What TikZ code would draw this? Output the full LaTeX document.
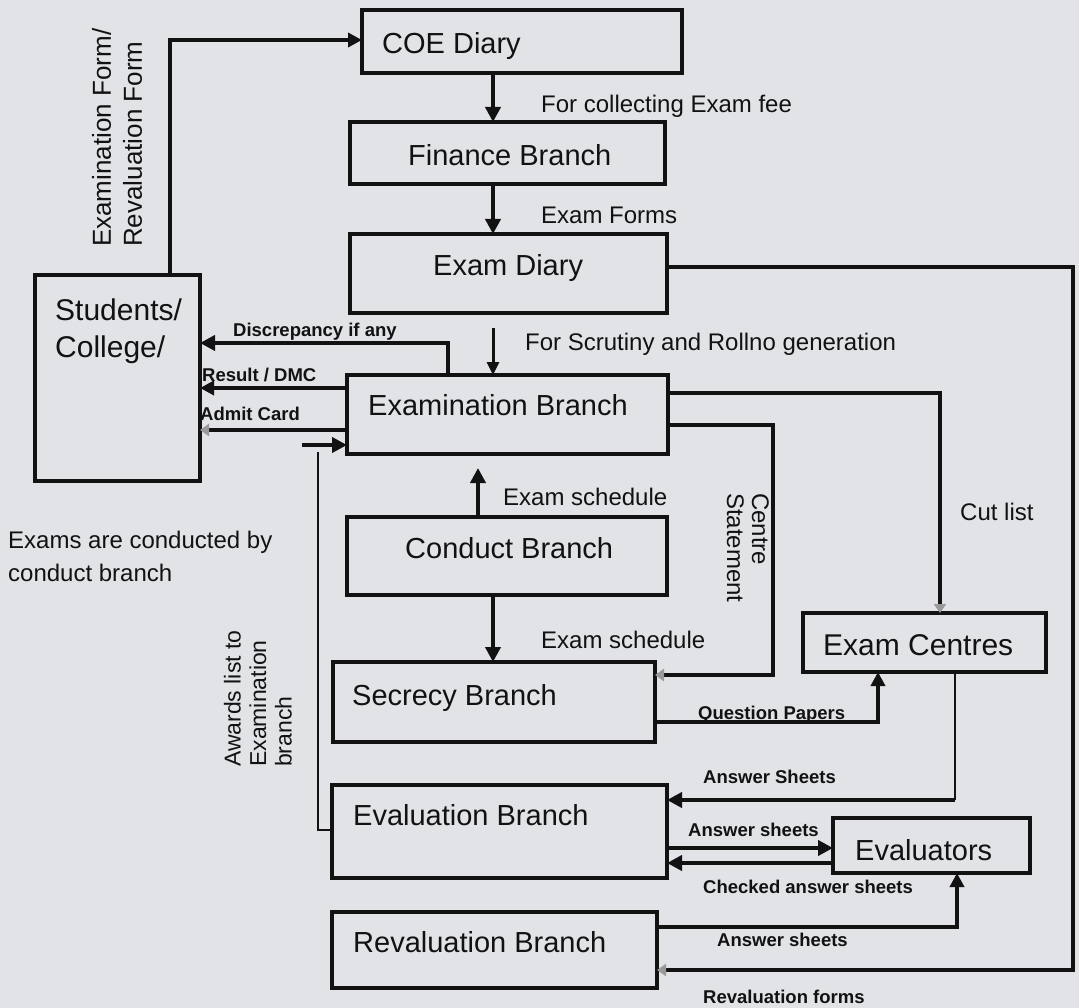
\documentclass[tikz,border=0pt]{standalone}
\usepackage{fontspec}
\setmainfont{Liberation Sans}
\usetikzlibrary{arrows.meta}
\definecolor{bgc}{RGB}{225,227,230}
\definecolor{ink}{RGB}{18,18,18}
\tikzset{
  box/.style={draw=ink, line width=3.2pt, inner sep=0pt, outer sep=0pt, rectangle},
  btxt/.style={inner sep=0pt, anchor=west, text=ink, font=\fontsize{29}{34}\selectfont, text height=20.8pt, text depth=0pt},
  ltxt/.style={inner sep=0pt, anchor=west, text=ink, font=\fontsize{24}{28}\selectfont, text height=17.2pt, text depth=0pt},
  stxt/.style={inner sep=0pt, anchor=west, text=ink, font=\bfseries\fontsize{18.5}{22}\selectfont, text height=13.3pt, text depth=0pt},
  rtxt/.style={inner sep=0pt, anchor=west, text=ink, align=left},
  arrm/.style={draw=ink, line width=4.4pt, -{Triangle[length=15pt,width=15pt]}},
  arrs/.style={draw=ink, line width=3.6pt, -{Triangle[length=14pt,width=14pt]}},
  arrt/.style={draw=ink, line width=3pt, -{Triangle[length=13pt,width=12pt]}},
  arrf/.style={draw=ink, line width=3.8pt, -{Triangle[length=9pt,width=12pt,color=black!40]}},
  plain/.style={draw=ink, line width=2.6pt},
}
\begin{document}
\begin{tikzpicture}[x=1pt,y=-1pt]
\fill[bgc] (0,0) rectangle (1079,1008);
\useasboundingbox (0,0) rectangle (1079,1008);

% boxes
\node[box, minimum width=320pt, minimum height=63pt] (coe) at (522,41.5) {};
\node[box, minimum width=315pt, minimum height=62pt] (fin) at (507.5,153) {};
\node[box, minimum width=317pt, minimum height=79pt] (ediary) at (508.5,273.5) {};
\node[box, minimum width=165pt, minimum height=206pt] (stu) at (117.5,378) {};
\node[box, minimum width=321pt, minimum height=79pt] (exm) at (507.5,414.5) {};
\node[box, minimum width=320pt, minimum height=78pt] (con) at (507,556) {};
\node[box, minimum width=322pt, minimum height=80pt] (sec) at (494,702) {};
\node[box, minimum width=243pt, minimum height=59pt] (cen) at (924.5,642.5) {};
\node[box, minimum width=335pt, minimum height=93pt] (eva) at (499.5,831.5) {};
\node[box, minimum width=197pt, minimum height=55pt] (evs) at (931.5,845.5) {};
\node[box, minimum width=325pt, minimum height=76pt] (rev) at (494.5,950) {};

% box texts
\node[btxt] (coe-t) at (382,43) {COE Diary};
\node[btxt] (fin-t) at (408,155) {Finance Branch};
\node[btxt] (ediary-t) at (433,265) {Exam Diary};
\node[inner sep=0pt, anchor=north west, align=left, text=ink, font=\fontsize{30}{37}\selectfont] (stu-t) at (55,299) {Students/\\College/};
\node[btxt] (exm-t) at (368,405) {Examination Branch};
\node[btxt] (con-t) at (405,548) {Conduct Branch};
\node[btxt] (sec-t) at (352,695) {Secrecy Branch};
\node[btxt, font=\fontsize{30}{35}\selectfont, text height=21.5pt] (cen-t) at (823,645) {Exam Centres};
\node[btxt] (eva-t) at (353,815) {Evaluation Branch};
\node[btxt] (evs-t) at (855,850) {Evaluators};
\node[btxt] (rev-t) at (353,942) {Revaluation Branch};

% free text
\node[inner sep=0pt, anchor=north west, align=left, text=ink, font=\fontsize{24}{33}\selectfont] (note) at (8,531) {Exams are conducted by\\conduct branch};

% connectors
\draw[arrs] (stu.north -| 170,0) |- (coe.west |- 0,40);
\draw[arrm] (coe.south -| 493,0) -- (fin.north -| 493,0);
\draw[arrm] (fin.south -| 493,0) -- (ediary.north -| 493,0);
\coordinate (scr) at (493,328);
\draw[arrt] (scr) -- (exm.north -| 493,0);
\draw[arrm] (exm.north -| 448,0) |- (stu.east |- 0,343);
\draw[arrs] (exm.west |- 0,388) -- (stu.east |- 0,388);
\draw[arrf] (exm.west |- 0,430) -- (stu.east |- 0,430);
\draw[plain] (eva.west |- 0,830) -| (318,452);
\coordinate (aws) at (302,445);
\draw[arrm] (aws) -- (exm.west |- 0,445);
\draw[arrm, shorten >=14pt] (con.north -| 478,0) -- (exm.south -| 478,0);
\draw[arrm] (con.south -| 493,0) -- (sec.north -| 493,0);
\draw[arrf] (exm.east |- 0,425) -| (773,675) -- (sec.east |- 0,675);
\draw[arrf] (exm.east |- 0,393) -| (cen.north -| 940,0);
\draw[arrf, line width=3.2pt] (ediary.east |- 0,267) -| (1073,970) -- (rev.east |- 0,970);
\draw[arrs] (sec.east |- 0,722) -| (cen.south -| 878,0);
\coordinate (ansc) at (955,800);
\draw[plain] (cen.south -| 955,0) -- (ansc);
\draw[arrm] (ansc) -- (eva.east |- 0,800);
\draw[arrm] (eva.east |- 0,848) -- (evs.west |- 0,848);
\draw[arrm] (evs.west |- 0,863) -- (eva.east |- 0,863);
\draw[arrs] (rev.east |- 0,927) -| (evs.south -| 957,0);

% connector labels
\node[rtxt, rotate=90, font=\fontsize{26}{31}\selectfont] (l-form) at (117,247) {Examination Form/\\Revaluation Form};
\node[ltxt] (l-fee) at (541,104) {For collecting Exam fee};
\node[ltxt] (l-forms) at (541,215) {Exam Forms};
\node[ltxt] (l-scr) at (525,342) {For Scrutiny and Rollno generation};
\node[stxt] (l-dis) at (233,330) {Discrepancy if any};
\node[stxt] (l-res) at (202,375) {Result / DMC};
\node[stxt] (l-adm) at (200,414) {Admit Card};
\node[rtxt, rotate=90, font=\fontsize{23}{25.5}\selectfont] (l-awd) at (258,767) {Awards list to\\Examination\\branch};
\node[ltxt] (l-sch1) at (503,497) {Exam schedule};
\node[ltxt] (l-sch2) at (541,640) {Exam schedule};
\node[rtxt, rotate=-90, font=\fontsize{24}{25}\selectfont] (l-cs) at (748,493) {Centre\\Statement};
\node[ltxt] (l-cut) at (960,512) {Cut list};
\node[stxt] (l-qp) at (698,713) {Question Papers};
\node[stxt] (l-as1) at (703,777) {Answer Sheets};
\node[stxt] (l-as2) at (688,830) {Answer sheets};
\node[stxt] (l-chk) at (703,887) {Checked answer sheets};
\node[stxt] (l-as3) at (717,940) {Answer sheets};
\node[stxt] (l-rf) at (703,997) {Revaluation forms};
\end{tikzpicture}
\end{document}
